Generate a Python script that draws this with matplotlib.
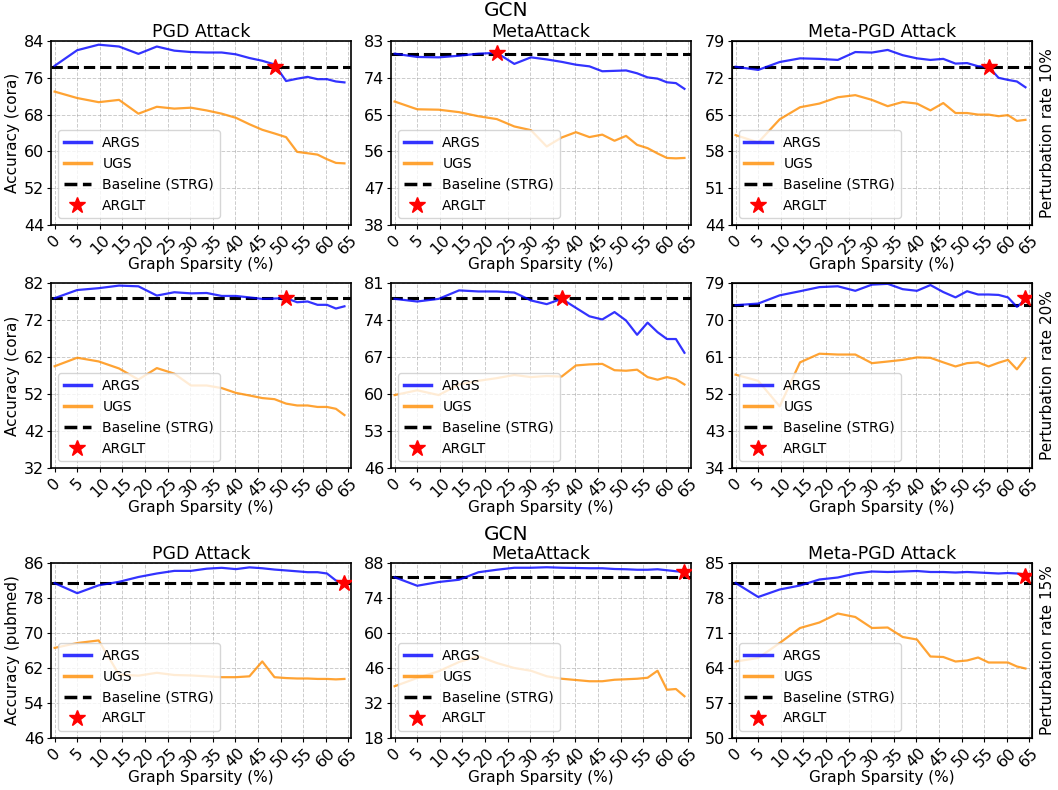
import numpy as np
import matplotlib
matplotlib.use("Agg")
import matplotlib.pyplot as plt
from matplotlib.lines import Line2D

# graph sparsity levels (%) after each pruning round
sparsity = [0, 5, 9.75, 14.26, 18.55, 22.62, 26.49, 30.17, 33.66, 36.98, 40.13,
            43.12, 45.96, 48.67, 51.23, 53.67, 55.99, 58.19, 60.28, 62.26, 64.15]

attacks = ["PGD Attack", "MetaAttack", "Meta-PGD Attack"]
row_datasets = ["cora", "cora", "pubmed"]
row_rates = ["Perturbation rate 10%", "Perturbation rate 20%", "Perturbation rate 15%"]

# --- cora, 10% ---
args_pgd_10 = [78.6, 82.0, 83.2, 82.8, 81.2, 82.8, 81.9, 81.6, 81.5, 81.5, 81.1,
               80.3, 79.7, 78.9, 75.3, 75.8, 76.2, 75.7, 75.7, 75.2, 75.0]
ugs_pgd_10 = [73.0, 71.6, 70.7, 71.2, 68.2, 69.7, 69.3, 69.5, 68.9, 68.2, 67.3,
              65.9, 64.7, 63.9, 63.1, 59.9, 59.6, 59.3, 58.3, 57.5, 57.4]
args_meta_10 = [79.9, 79.1, 79.0, 79.4, 79.9, 80.1, 77.4, 79.0, 78.5, 77.9, 77.2,
                76.8, 75.6, 75.7, 75.8, 75.1, 74.1, 73.8, 72.9, 72.7, 71.3]
ugs_meta_10 = [68.2, 66.3, 66.2, 65.6, 64.6, 63.9, 62.1, 61.2, 57.2, 59.4, 60.7,
               59.5, 60.1, 58.6, 59.8, 57.6, 56.8, 55.5, 54.4, 54.3, 54.4]
args_mpgd_10 = [74.1, 73.5, 75.0, 75.7, 75.6, 75.4, 76.9, 76.8, 77.3, 76.3, 75.7,
                75.4, 75.6, 74.7, 74.8, 74.2, 74.1, 72.0, 71.6, 71.3, 70.2]
ugs_mpgd_10 = [61.1, 59.7, 64.1, 66.4, 67.1, 68.3, 68.7, 67.8, 66.6, 67.4, 67.1,
               65.8, 67.2, 65.3, 65.3, 65.0, 65.0, 64.7, 64.9, 63.8, 64.0]

# --- cora, 20% ---
args_pgd_20 = [77.9, 80.1, 80.6, 81.3, 81.1, 78.6, 79.5, 79.2, 79.3, 78.5, 78.5,
               78.1, 77.7, 77.8, 77.9, 76.8, 77.0, 76.1, 76.1, 75.1, 75.7]
ugs_pgd_20 = [59.5, 61.8, 60.8, 58.9, 55.9, 59.0, 57.5, 54.3, 54.3, 53.6, 52.3,
              51.6, 50.9, 50.6, 49.4, 48.9, 48.9, 48.5, 48.5, 48.0, 46.3]
args_meta_20 = [78.0, 77.5, 78.0, 79.6, 79.4, 79.4, 79.2, 77.7, 77.0, 78.0, 76.3,
                74.7, 74.1, 75.5, 73.9, 71.2, 73.5, 71.7, 70.4, 70.4, 67.8]
ugs_meta_20 = [59.8, 60.7, 59.8, 61.8, 62.5, 63.0, 63.6, 63.2, 63.4, 63.3, 65.4,
               65.6, 65.7, 64.5, 64.4, 64.6, 63.2, 62.7, 63.2, 62.8, 61.8]
args_mpgd_20 = [73.6, 74.0, 76.0, 77.0, 78.0, 78.2, 77.1, 78.6, 78.8, 77.5, 77.1,
                78.5, 76.8, 75.5, 77.0, 76.2, 76.2, 76.1, 75.5, 73.2, 75.0]
ugs_mpgd_20 = [56.7, 55.2, 49.0, 59.7, 61.8, 61.6, 61.6, 59.5, 59.9, 60.3, 60.9,
               60.8, 59.7, 58.7, 59.5, 59.7, 58.7, 59.6, 60.3, 58.0, 60.7]

# --- pubmed, 15% ---
args_pgd_15 = [81.4, 79.1, 80.9, 81.7, 82.8, 83.6, 84.2, 84.2, 84.7, 84.9, 84.6,
               85.0, 84.8, 84.5, 84.3, 84.1, 83.9, 83.9, 83.6, 82.0, 81.4]
ugs_pgd_15 = [66.6, 67.7, 68.3, 60.5, 60.25, 60.9, 60.4, 60.3, 60.1, 59.9, 59.9,
              60.1, 63.5, 59.9, 59.7, 59.6, 59.6, 59.5, 59.5, 59.4, 59.5]
args_meta_15 = [82.3, 78.9, 80.4, 81.3, 84.3, 85.3, 86.1, 86.1, 86.3, 86.1, 86.0,
                85.9, 85.9, 85.6, 85.5, 85.3, 85.3, 85.5, 85.1, 84.7, 84.4]
ugs_meta_15 = [38.7, 42.0, 44.7, 48.4, 50.7, 48.0, 46.0, 44.9, 42.7, 41.7, 41.2,
               40.7, 40.7, 41.3, 41.5, 41.7, 42.1, 44.9, 37.3, 37.6, 34.7]
args_mpgd_15 = [81.0, 78.2, 79.7, 80.5, 81.7, 82.1, 82.9, 83.3, 83.2, 83.3, 83.4,
                83.2, 83.2, 83.1, 83.2, 83.1, 83.0, 82.9, 83.0, 82.9, 82.7]
ugs_mpgd_15 = [65.3, 66.0, 69.0, 72.0, 73.1, 74.9, 74.2, 72.0, 72.1, 70.2, 69.7,
               66.3, 66.2, 65.3, 65.5, 66.1, 65.1, 65.1, 65.1, 64.3, 63.9]

args_all = [[args_pgd_10, args_meta_10, args_mpgd_10],
            [args_pgd_20, args_meta_20, args_mpgd_20],
            [args_pgd_15, args_meta_15, args_mpgd_15]]
ugs_all = [[ugs_pgd_10, ugs_meta_10, ugs_mpgd_10],
           [ugs_pgd_20, ugs_meta_20, ugs_mpgd_20],
           [ugs_pgd_15, ugs_meta_15, ugs_mpgd_15]]
baselines = [[78.4, 79.9, 74.1],
             [77.9, 78.1, 73.6],
             [81.4, 82.3, 81.0]]
# ARGLT star (sparsity, accuracy)
stars = [[(48.67, 78.3), (22.62, 80.1), (55.99, 74.05)],
         [(51.23, 78.0), (36.98, 78.1), (64.15, 75.3)],
         [(64.15, 81.4), (64.15, 84.3), (64.15, 82.5)]]
ylims = [[(44, 84), (38, 83), (44, 79)],
         [(32, 82), (46, 81), (34, 79)],
         [(46, 86), (18, 88), (50, 85)]]

fig = plt.figure(figsize=(10.58, 7.9), dpi=100)

W, H = 1058, 790
col_left = [51, 391, 732]
col_w = 300
row_top = [41, 283, 563]
row_bot = [225, 468, 738]

for r in range(3):
    for c in range(3):
        ax = fig.add_axes([col_left[c] / W, 1 - row_bot[r] / H, col_w / W,
                           (row_bot[r] - row_top[r]) / H])
        ax.plot(sparsity, args_all[r][c], color="blue", alpha=0.8, lw=1.6, zorder=3)
        ax.plot(sparsity, ugs_all[r][c], color="darkorange", alpha=0.8, lw=1.6, zorder=3)
        ax.axhline(baselines[r][c], color="black", ls="--", lw=2.2, zorder=2)
        sx, sy = stars[r][c]
        ax.plot([sx], [sy], marker="*", color="red", ms=12, ls="none", zorder=4)

        lo, hi = ylims[r][c]
        ax.set_ylim(lo, hi)
        ax.set_yticks(np.linspace(lo, hi, 6))
        ax.set_xlim(-0.8, 65.6)
        ax.set_xticks(np.arange(0, 70, 5))
        ax.tick_params(length=3, pad=2)
        ax.tick_params(axis="x", labelrotation=45, labelsize=11.5)
        ax.tick_params(axis="y", labelsize=11.5)
        ax.grid(True, ls="--", color="gray", alpha=0.4, lw=0.7)
        for s in ax.spines.values():
            s.set_linewidth(1.2)
        ax.set_xlabel("Graph Sparsity (%)", fontsize=11, labelpad=0)
        if c == 0:
            ax.set_ylabel(f"Accuracy ({row_datasets[r]})", fontsize=11, labelpad=3)
        if r != 1:
            ax.set_title(attacks[c], fontsize=12.5, pad=3)
        if c == 2:
            ax2 = ax.twinx()
            ax2.set_yticks([])
            ax2.set_ylabel(row_rates[r], fontsize=11, labelpad=6)

        handles = [Line2D([], [], color="blue", alpha=0.8, lw=2.5),
                   Line2D([], [], color="darkorange", alpha=0.8, lw=2.5),
                   Line2D([], [], color="black", ls="--", lw=2.5),
                   Line2D([], [], marker="*", color="red", ms=12, ls="none")]
        ax.legend(handles, ["ARGS", "UGS", "Baseline (STRG)", "ARGLT"],
                  loc="lower left", fontsize=10, framealpha=0.8)

fig.text(506 / W, 1 - 10 / H, "GCN", ha="center", va="center", fontsize=14.5)
fig.text(506 / W, 1 - 535 / H, "GCN", ha="center", va="center", fontsize=14.5)

fig.savefig("out.png", dpi=100)
